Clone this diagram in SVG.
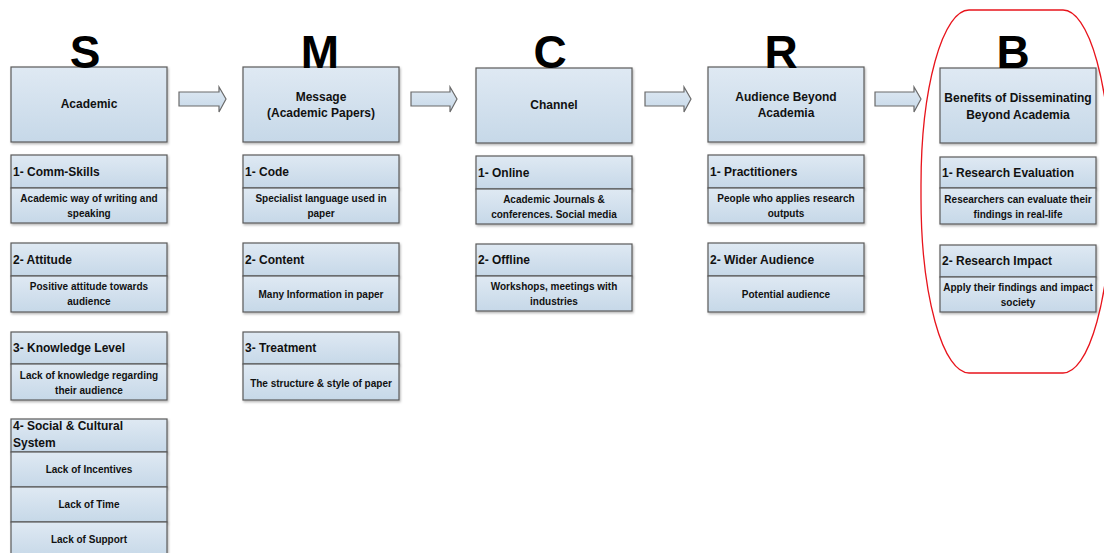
<svg xmlns="http://www.w3.org/2000/svg" width="1104" height="553" viewBox="0 0 1104 553">
  <defs>
    <linearGradient id="boxFill" x1="0" y1="0" x2="0" y2="1">
      <stop offset="0" stop-color="#dfe9f3"/>
      <stop offset="1" stop-color="#c6d8e8"/>
    </linearGradient>
    <filter id="shadow" x="-5%" y="-5%" width="115%" height="125%">
      <feDropShadow dx="1" dy="1.5" stdDeviation="0.8" flood-color="#000" flood-opacity="0.3"/>
    </filter>
  </defs>
  <style>
    .box { fill: url(#boxFill); stroke: #5a5a5a; stroke-width: 1.2; filter: url(#shadow); }
    .arrow { fill: url(#boxFill); stroke: #6a6a6a; stroke-width: 1.2; }
    .letter { font-family: "Liberation Sans", Arial, sans-serif; font-weight: bold; font-size: 46px; text-anchor: middle; fill: #000; }
    .head { font-family: "Liberation Sans", Arial, sans-serif; font-weight: bold; font-size: 12px; text-anchor: middle; fill: #111; }
    .item { font-family: "Liberation Sans", Arial, sans-serif; font-weight: bold; font-size: 12px; fill: #111; }
    .desc { font-family: "Liberation Sans", Arial, sans-serif; font-weight: bold; font-size: 10px; text-anchor: middle; fill: #111; }
    .ring { fill: none; stroke: #e8141c; stroke-width: 1.3; }
  </style>

  <rect width="1104" height="553" fill="#fff"/>

  <!-- S: source -->
  <g id="node-s">
    <rect class="box" x="11" y="67" width="156" height="75"/>
    <text class="letter" x="85" y="68">S</text>
    <text class="head" x="89" y="108">Academic</text>
  </g>
  <g id="node-s-1">
    <rect class="box" x="11" y="155" width="156" height="33"/>
    <rect class="box" x="11" y="188" width="156" height="35"/>
    <text class="item" x="13" y="176">1- Comm-Skills</text>
    <text class="desc" x="89" y="202">Academic way of writing and</text>
    <text class="desc" x="89" y="216.5">speaking</text>
  </g>
  <g id="node-s-2">
    <rect class="box" x="11" y="243" width="156" height="33"/>
    <rect class="box" x="11" y="276" width="156" height="36"/>
    <text class="item" x="13" y="264">2- Attitude</text>
    <text class="desc" x="89" y="290">Positive attitude towards</text>
    <text class="desc" x="89" y="304.5">audience</text>
  </g>
  <g id="node-s-3">
    <rect class="box" x="11" y="332" width="156" height="32"/>
    <rect class="box" x="11" y="364" width="156" height="36"/>
    <text class="item" x="13" y="352">3- Knowledge Level</text>
    <text class="desc" x="89" y="379">Lack of knowledge regarding</text>
    <text class="desc" x="89" y="393.5">their audience</text>
  </g>
  <g id="node-s-4">
    <rect class="box" x="11" y="419" width="156" height="33"/>
    <rect class="box" x="11" y="452" width="156" height="35"/>
    <rect class="box" x="11" y="487" width="156" height="35"/>
    <rect class="box" x="11" y="522" width="156" height="36"/>
    <text class="item" x="13" y="430">4- Social &amp; Cultural</text>
    <text class="item" x="13" y="447">System</text>
    <text class="desc" x="89" y="473">Lack of Incentives</text>
    <text class="desc" x="89" y="508">Lack of Time</text>
    <text class="desc" x="89" y="543">Lack of Support</text>
  </g>

  <!-- M: message -->
  <g id="node-m">
    <rect class="box" x="243" y="67" width="156" height="75"/>
    <text class="letter" x="320" y="68">M</text>
    <text class="head" x="321" y="101">Message</text>
    <text class="head" x="321" y="117">(Academic Papers)</text>
  </g>
  <g id="node-m-1">
    <rect class="box" x="243" y="155" width="156" height="33"/>
    <rect class="box" x="243" y="188" width="156" height="35"/>
    <text class="item" x="245" y="176">1- Code</text>
    <text class="desc" x="321" y="202">Specialist language used in</text>
    <text class="desc" x="321" y="216.5">paper</text>
  </g>
  <g id="node-m-2">
    <rect class="box" x="243" y="243" width="156" height="33"/>
    <rect class="box" x="243" y="276" width="156" height="36"/>
    <text class="item" x="245" y="264">2- Content</text>
    <text class="desc" x="321" y="298">Many Information in paper</text>
  </g>
  <g id="node-m-3">
    <rect class="box" x="243" y="332" width="156" height="32"/>
    <rect class="box" x="243" y="364" width="156" height="36"/>
    <text class="item" x="245" y="352">3- Treatment</text>
    <text class="desc" x="321" y="387">The structure &amp; style of paper</text>
  </g>

  <!-- C: channel -->
  <g id="node-c">
    <rect class="box" x="476" y="68" width="156" height="75"/>
    <text class="letter" x="550" y="68">C</text>
    <text class="head" x="554" y="109">Channel</text>
  </g>
  <g id="node-c-1">
    <rect class="box" x="476" y="156" width="156" height="33"/>
    <rect class="box" x="476" y="189" width="156" height="35"/>
    <text class="item" x="478" y="177">1- Online</text>
    <text class="desc" x="554" y="203">Academic Journals &amp;</text>
    <text class="desc" x="554" y="217.5">conferences. Social media</text>
  </g>
  <g id="node-c-2">
    <rect class="box" x="476" y="244" width="156" height="32"/>
    <rect class="box" x="476" y="276" width="156" height="35"/>
    <text class="item" x="478" y="264">2- Offline</text>
    <text class="desc" x="554" y="290">Workshops,  meetings with</text>
    <text class="desc" x="554" y="304.5">industries</text>
  </g>

  <!-- R: receiver -->
  <g id="node-r">
    <rect class="box" x="708" y="67" width="156" height="75"/>
    <text class="letter" x="781" y="68">R</text>
    <text class="head" x="786" y="101">Audience Beyond</text>
    <text class="head" x="786" y="117">Academia</text>
  </g>
  <g id="node-r-1">
    <rect class="box" x="708" y="155" width="156" height="33"/>
    <rect class="box" x="708" y="188" width="156" height="35"/>
    <text class="item" x="710" y="176">1- Practitioners</text>
    <text class="desc" x="786" y="202">People who applies research</text>
    <text class="desc" x="786" y="216.5">outputs</text>
  </g>
  <g id="node-r-2">
    <rect class="box" x="708" y="243" width="156" height="33"/>
    <rect class="box" x="708" y="276" width="156" height="36"/>
    <text class="item" x="710" y="264">2- Wider Audience</text>
    <text class="desc" x="786" y="298">Potential audience</text>
  </g>

  <!-- B: benefits, circled in red -->
  <g id="node-b">
    <rect class="box" x="940" y="68" width="156" height="75"/>
    <text class="letter" x="1013" y="68">B</text>
    <text class="head" x="1018" y="102">Benefits of Disseminating</text>
    <text class="head" x="1018" y="119">Beyond Academia</text>
  </g>
  <g id="node-b-1">
    <rect class="box" x="940" y="157" width="156" height="31"/>
    <rect class="box" x="940" y="188" width="156" height="36"/>
    <text class="item" x="942" y="177">1- Research Evaluation</text>
    <text class="desc" x="1018" y="203">Researchers can evaluate their</text>
    <text class="desc" x="1018" y="217.5">findings in real-life</text>
  </g>
  <g id="node-b-2">
    <rect class="box" x="940" y="245" width="156" height="32"/>
    <rect class="box" x="940" y="277" width="156" height="35"/>
    <text class="item" x="942" y="265">2- Research Impact</text>
    <text class="desc" x="1018" y="291">Apply their findings and impact</text>
    <text class="desc" x="1018" y="305.5">society</text>
  </g>
  <rect id="highlight" class="ring" x="921" y="10" width="190" height="363" rx="48" ry="175"/>

  <!-- block arrows between stages -->
  <g id="connectors">
    <path class="arrow" d="M179,92 H219 V87 L226,99 L219,112 V106 H179 Z"/>
    <path class="arrow" d="M411,92 H450 V87 L457,99 L450,112 V106 H411 Z"/>
    <path class="arrow" d="M645,92 H684 V87 L691,99 L684,112 V106 H645 Z"/>
    <path class="arrow" d="M875,92 H914 V87 L921,99 L914,112 V106 H875 Z"/>
  </g>
</svg>
